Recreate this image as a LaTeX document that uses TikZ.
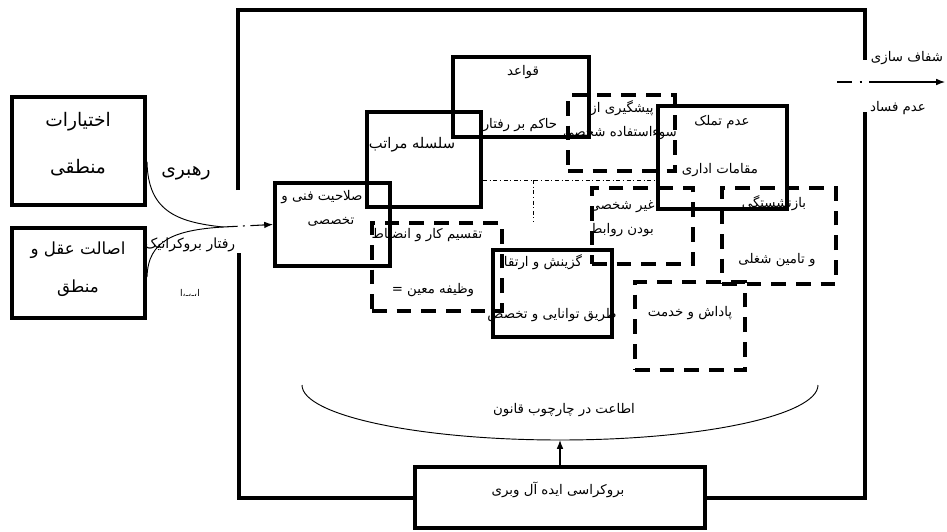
\documentclass[tikz,border=0pt]{standalone}
\usepackage{fontspec}
\newfontfamily\arabicfont[Script=Arabic]{DejaVu Sans}
\TeXXeTstate=1
\usetikzlibrary{arrows.meta,fit}

\newcommand{\fa}[1]{\arabicfont\beginR #1\endR}

\begin{document}
\begin{tikzpicture}[
    x=0.75pt, y=-0.75pt,
    >=Latex,
    solidbox/.style={draw, line width=3pt, inner sep=0pt},
    dashbox/.style={draw, line width=3pt, inner sep=0pt, dash pattern=on 11pt off 7.5pt},
    frame/.style={line width=3pt},
    txt/.style={font=\fontsize{10}{12}\selectfont, inner sep=1pt},
    bigtxt/.style={font=\fontsize{14}{16}\selectfont, inner sep=1pt},
    tinytxt/.style={font=\fontsize{7}{8}\selectfont, inner sep=1pt},
    thinline/.style={line width=0.7pt},
]
\useasboundingbox (0,0) rectangle (947,532);

% left boxes
\node[solidbox, fit={(12,97) (145,205)}] (logic) {};
\node[solidbox, fit={(12,228) (145,318)}] (reason) {};
\node[bigtxt] (logic1) at (78,122) {\fa{اختیارات}};
\node[bigtxt] (logic2) at (78,168) {\fa{منطقی}};
\node[font=\fontsize{12.5}{14}\selectfont, inner sep=1pt] (reason1) at (78,250) {\fa{اصالت عقل و}};
\node[font=\fontsize{12.5}{14}\selectfont, inner sep=1pt] (reason2) at (78,288) {\fa{منطق}};
\node[bigtxt] (lead) at (186,173) {\fa{رهبری}};
\node[font=\fontsize{10.5}{12}\selectfont, inner sep=1pt] (behav) at (190,245) {\fa{رفتار بروکراتیک}};
\node[tinytxt] (garbled) at (190,293) {\fa{ا،ـ،ـ،ا}};

% curves into the frame
\coordinate (meet) at (223,227);
\draw[thinline] ([yshift=-8pt]logic.east) .. controls (148,210) and (175,222) .. (meet);
\draw[thinline] ([yshift=-3pt]reason.east) .. controls (148,240) and (175,230) .. (meet);

% solid boxes
\node[solidbox, fit={(275,183) (390,266)}] (salahiat) {};
\node[solidbox, fit={(367,112) (481,207)}] (hierarchy) {};
\node[solidbox, fit={(453,57) (589,137)}] (rules) {};
\node[solidbox, fit={(658,106) (787,209)}] (ownership) {};
\node[solidbox, fit={(493,250) (612,337)}] (selection) {};

% dashed boxes
\node[dashbox, fit={(372,223) (502,311)}] (division) {};
\node[dashbox, fit={(568,95) (675,171)}] (misuse) {};
\node[dashbox, fit={(592,188) (693,264)}] (impersonal) {};
\node[dashbox, fit={(722,188) (836,284)}] (pension) {};
\node[dashbox, fit={(635,282) (745,370)}] (reward) {};

\draw[thinline, dash dot] (hierarchy.east |- 0,180) -- (ownership.west |- 0,180);
\draw[thinline, dash dot] (533,180) -- (533,222);

% box texts
\node[txt] (salahiat1) at (322,197) {\fa{صلاحیت فنی و}};
\node[txt] (salahiat2) at (331,222) {\fa{تخصصی}};
\node[font=\fontsize{11}{13}\selectfont, inner sep=1pt] (hierarchy1) at (412,145) {\fa{سلسله مراتب}};
\node[txt] (rules1) at (523,72) {\fa{قواعد}};
\node[txt] (rules2) at (520,125) {\fa{حاکم بر رفتار}};
\node[txt] (misuse1) at (622,108) {\fa{پیشگیری از}};
\node[txt] (misuse2) at (620,133) {\fa{سوءاستفاده شخصی}};
\node[txt] (ownership1) at (722,122) {\fa{عدم تملک}};
\node[txt] (ownership2) at (720,170) {\fa{مقامات اداری}};
\node[txt] (impersonal1) at (622,207) {\fa{غیر شخصی}};
\node[txt] (impersonal2) at (622,230) {\fa{بودن روابط}};
\node[txt] (pension1) at (774,203) {\fa{بازنشستگی}};
\node[txt] (pension2) at (777,260) {\fa{و تامین شغلی}};
\node[txt] (division1) at (427,235) {\fa{تقسیم کار و انضباط}};
\node[txt] (division2) at (433,290) {\fa{وظیفه معین =}};
\node[txt] (selection1) at (543,262) {\fa{گزینش و ارتقا}};
\node[txt] (selection2) at (552,315) {\fa{طریق توانایی و تخصص}};
\node[txt] (reward1) at (690,313) {\fa{پاداش و خدمت}};

% law curve
\coordinate (lawpt) at (560,440);
\draw[thinline] (302,385) .. controls (302,415) and (417,440) .. (lawpt)
    .. controls (703,440) and (818,415) .. (818,385);
\node[txt] (law) at (564,410) {\fa{اطاعت در چارچوب قانون}};

% ideal bureaucracy box
\node[solidbox, fit={(415,467) (705,528)}] (ideal) {};
\node[txt] (ideal1) at (558,490) {\fa{بروکراسی ایده آل وبری}};
\draw[->, line width=0.8pt] (ideal.north) -- (lawpt);

% outer frame
\draw[frame] (238,190) -- (238,10) -- (865,10) -- (865,60);
\draw[frame] (865,112) -- (865,497.5) -- (ideal.east);
\draw[frame] (ideal.west) -- (239,497.5) -- (239,253);

% arrows in and out
\draw[->, line width=0.8pt, dash pattern=on 11pt off 4pt on 1.5pt off 4pt on 40pt] (meet) -- (salahiat.west);
\coordinate (outA) at (837,82);
\coordinate (outB) at (945,82);
\draw[->, line width=0.8pt, dash pattern=on 11pt off 6pt on 2pt off 5pt on 80pt] (outA) -- (outB);
\node[txt] (transp) at (907,58) {\fa{شفاف سازی}};
\node[txt] (nocorr) at (898,108) {\fa{عدم فساد}};

\end{tikzpicture}
\end{document}
